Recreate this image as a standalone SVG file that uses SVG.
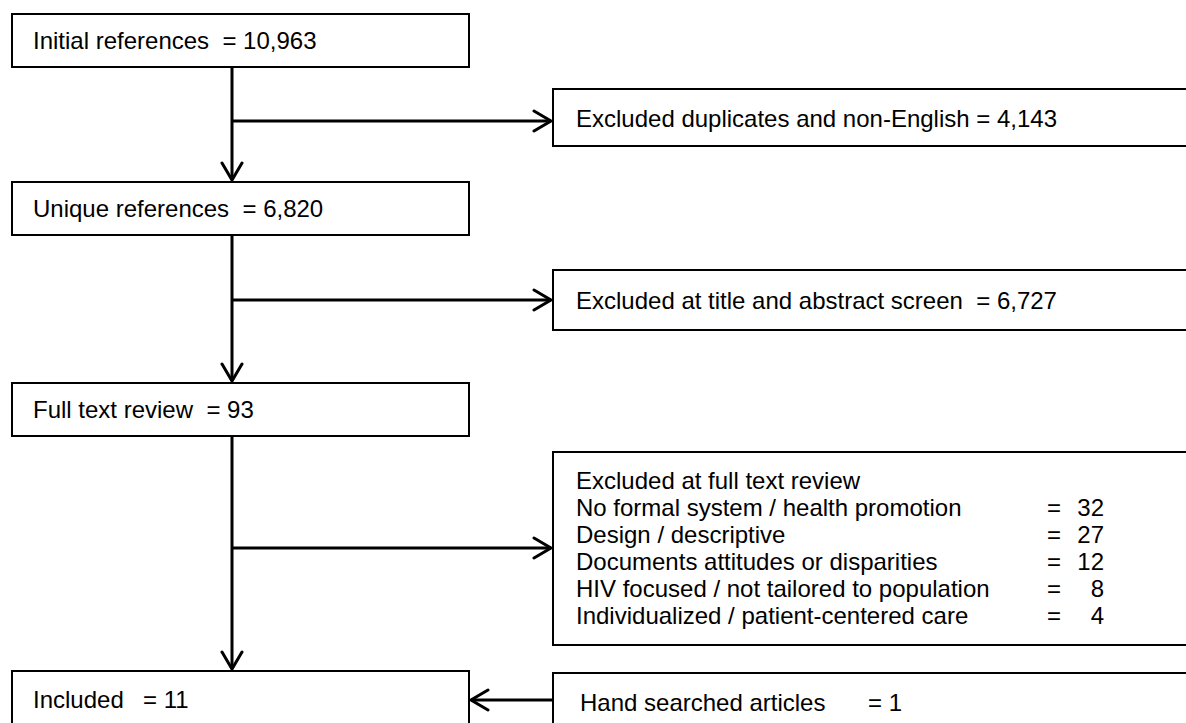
<svg xmlns="http://www.w3.org/2000/svg" width="1186" height="723" viewBox="0 0 1186 723">
  <style>
    .box { fill: #ffffff; stroke: #000000; stroke-width: 2; }
    .lbl { font-family: "Liberation Sans", Arial, sans-serif; font-size: 24px; fill: #000000; white-space: pre; }
    .num { text-anchor: end; }
    .flow { fill: none; stroke: #000000; stroke-width: 3; }
  </style>
  <defs>
    <marker id="chev" markerUnits="userSpaceOnUse" markerWidth="24" markerHeight="26" refX="19" refY="12" orient="auto" viewBox="0 0 24 26">
      <path d="M2,2 L19,12 L2,22" fill="none" stroke="#000000" stroke-width="3" stroke-linecap="round"/>
    </marker>
  </defs>

  <rect width="1186" height="723" fill="#ffffff"/>

  <!-- connectors: main flow down the left column, exclusions branch to the right -->
  <g id="connectors" class="flow" marker-end="url(#chev)">
    <line x1="232" y1="67" x2="232" y2="180"/>
    <line x1="232" y1="121" x2="551" y2="121"/>
    <line x1="232" y1="235" x2="232" y2="381"/>
    <line x1="232" y1="300" x2="551" y2="300"/>
    <line x1="232" y1="436" x2="232" y2="669"/>
    <line x1="232" y1="548" x2="551" y2="548"/>
    <line x1="553" y1="700" x2="471" y2="700"/>
  </g>

  <!-- main column -->
  <g id="initial">
    <rect class="box" x="12" y="14" width="457" height="53"/>
    <text class="lbl" x="33" y="49">Initial references  = 10,963</text>
  </g>
  <g id="unique">
    <rect class="box" x="12" y="182" width="457" height="53"/>
    <text class="lbl" x="33" y="217">Unique references  = 6,820</text>
  </g>
  <g id="fulltext">
    <rect class="box" x="12" y="383" width="457" height="53"/>
    <text class="lbl" x="33" y="418">Full text review  = 93</text>
  </g>
  <g id="included">
    <rect class="box" x="12" y="671" width="457" height="60"/>
    <text class="lbl" x="33" y="708">Included</text>
    <text class="lbl" x="143" y="708">= 11</text>
  </g>

  <!-- exclusion column -->
  <g id="excl-dup">
    <rect class="box" x="553" y="89" width="640" height="57"/>
    <text class="lbl" x="576" y="127">Excluded duplicates and non-English = 4,143</text>
  </g>
  <g id="excl-title">
    <rect class="box" x="553" y="270" width="640" height="60"/>
    <text class="lbl" x="576" y="309">Excluded at title and abstract screen  = 6,727</text>
  </g>
  <g id="excl-full">
    <rect class="box" x="553" y="452" width="640" height="193"/>
    <text class="lbl" x="576" y="489">Excluded at full text review</text>
    <text class="lbl" x="576" y="516">No formal system / health promotion</text>
    <text class="lbl" x="576" y="543">Design / descriptive</text>
    <text class="lbl" x="576" y="570">Documents attitudes or disparities</text>
    <text class="lbl" x="576" y="597">HIV focused / not tailored to population</text>
    <text class="lbl" x="576" y="624">Individualized / patient-centered care</text>
    <g class="lbl">
      <text x="1047" y="516">=</text>
      <text x="1047" y="543">=</text>
      <text x="1047" y="570">=</text>
      <text x="1047" y="597">=</text>
      <text x="1047" y="624">=</text>
    </g>
    <g class="lbl num">
      <text x="1104" y="516">32</text>
      <text x="1104" y="543">27</text>
      <text x="1104" y="570">12</text>
      <text x="1104" y="597">8</text>
      <text x="1104" y="624">4</text>
    </g>
  </g>
  <g id="hand">
    <rect class="box" x="553" y="673" width="640" height="60"/>
    <text class="lbl" x="580" y="711">Hand searched articles</text>
    <text class="lbl" x="868" y="711">= 1</text>
  </g>
</svg>
